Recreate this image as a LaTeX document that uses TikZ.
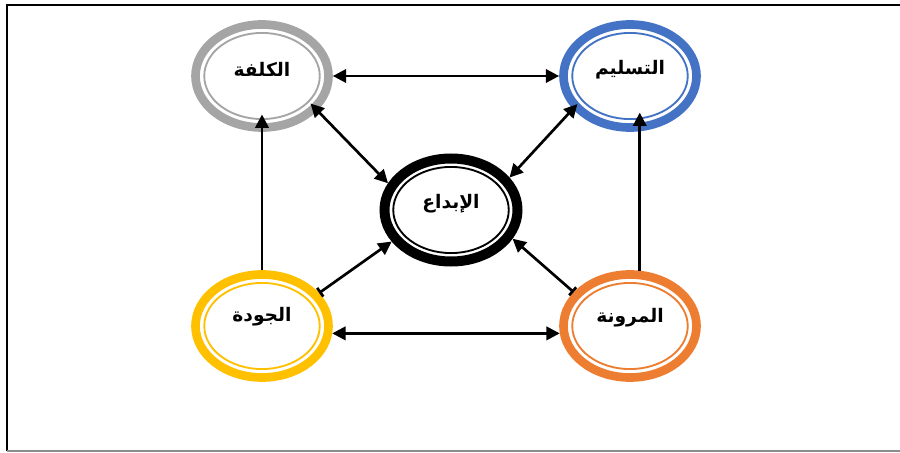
\documentclass[tikz,border=0pt]{standalone}
\usepackage{fontspec}
\usetikzlibrary{arrows.meta,shapes.geometric}
\TeXXeTstate=1
\newfontfamily\arabicfont[Script=Arabic]{DejaVu Sans}
\definecolor{ringgray}{HTML}{A5A5A5}
\definecolor{ringblue}{HTML}{4472C4}
\definecolor{ringyellow}{HTML}{FFC000}
\definecolor{ringorange}{HTML}{ED7D31}
\begin{document}
\begin{tikzpicture}[x=0.75pt,y=-0.75pt,
  ring/.style={ellipse, draw=#1, line width=6.5pt, minimum width=99.75pt,
    minimum height=77.25pt, inner sep=0pt},
  lbl/.style={font=\arabicfont\bfseries\fontsize{14}{17}\selectfont, inner sep=0pt},
  arr/.style={line width=2pt, black},
  both/.style={arrows={Triangle[length=10pt,width=10pt]-Triangle[length=10pt,width=10pt]}},
  one/.style={arrows={-Triangle[length=10pt,width=10pt]}},
  tee/.style={arrows={Bar[width=8pt]-Triangle[length=10pt,width=10pt]}}]
\useasboundingbox (0,0) rectangle (900,453);

% frame
\draw[line width=1.5pt] (900,5) -- (7,5) -- (7,451);
\draw[line width=1.5pt, black!45] (7,451) -- (900,451);

% rings
\node[ring=ringgray] (cost) at (262,76) {};
\node[ring=ringblue] (deliv) at (630,76) {};
\node[ring=black, line width=7.5pt] (inno) at (451,210) {};
\node[ring=ringyellow] (qual) at (262,326) {};
\node[ring=ringorange] (flex) at (630,326) {};

\foreach \n/\c in {cost/ringgray, deliv/ringblue, inno/black, qual/ringyellow, flex/ringorange}
  \draw[\c, line width=1.4pt] (\n.center) ellipse [x radius=43.3pt, y radius=32.3pt];

% labels
\node[lbl] (costtxt) at ([yshift=5pt]cost.center) {\beginR الكلفة\endR};
\node[lbl] (delivtxt) at ([yshift=5pt]deliv.center) {\beginR التسليم\endR};
\node[lbl] (innotxt) at ([yshift=5pt]inno.center) {\beginR الإبداع\endR};
\node[lbl] (qualtxt) at ([yshift=7pt]qual.center) {\beginR الجودة\endR};
\node[lbl] (flextxt) at ([yshift=6pt]flex.center) {\beginR المرونة\endR};

% connectors
\draw[arr, both] (cost.east) -- (deliv.west);
\draw[arr, both] (qual.-6) -- (flex.186);
\draw[arr, one, shorten >=-13pt] (qual.north) -- (cost.south);
\draw[arr, one, shorten >=-14pt] (flex.80) -- (deliv.-80);
\draw[arr, both, shorten <=-7.5pt] (cost.-32) -- (inno.157);
\draw[arr, both, shorten <=-5pt] (deliv.210) -- (inno.29);
\draw[arr, tee] (qual.30) -- (inno.208);
\draw[arr, tee] (flex.149) -- (inno.-25);
\end{tikzpicture}
\end{document}
